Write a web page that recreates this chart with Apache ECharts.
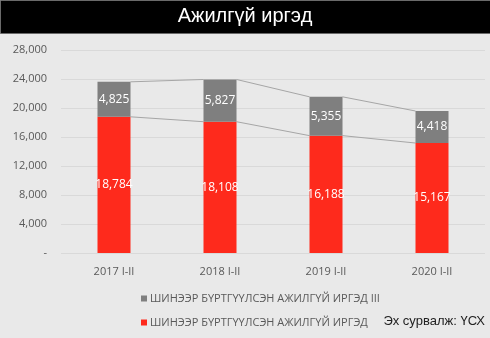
<!DOCTYPE html>
<html>
<head>
<meta charset="utf-8">
<script src="https://cdn.jsdelivr.net/npm/echarts@6/dist/echarts.min.js"></script>
<style>
  html, body { margin: 0; padding: 0; background: #e9e9e9; }
  #chart { width: 490px; height: 338px; }
</style>
</head>
<body>
<div id="chart"></div>
<script>
// Period labels along the horizontal axis
const periods = ['2017 I-II', '2018 I-II', '2019 I-II', '2020 I-II'];
// Newly registered unemployed citizens (lower, red segment)
const registered = [18784, 18108, 16188, 15167];
// Second group stacked above (grey segment)
const registeredIII = [4825, 5827, 5355, 4418];
// Vertical axis ticks
const yTicks = [0, 4000, 8000, 12000, 16000, 20000, 24000, 28000];

const nameRed = 'ШИНЭЭР БҮРТГҮҮЛСЭН АЖИЛГҮЙ ИРГЭД';
const nameGrey = 'ШИНЭЭР БҮРТГҮҮЛСЭН АЖИЛГҮЙ ИРГЭД III';

const BAR_W = 33;
const FONT = '"Open Sans", "Noto Sans", sans-serif';
const fmt = v => v.toLocaleString('en-US');

// Connector lines between neighbouring bars (segment tops)
const totals = registered.map((v, i) => v + registeredIII[i]);
function connectorData(tops) {
  const out = [];
  for (let i = 0; i < tops.length - 1; i++) out.push([i, tops[i], tops[i + 1]]);
  return out;
}
function renderConnector(params, api) {
  const i = api.value(0);
  const a = api.coord([i, api.value(1)]);
  const b = api.coord([i + 1, api.value(2)]);
  return {
    type: 'line',
    shape: { x1: a[0] + BAR_W / 2, y1: a[1], x2: b[0] - BAR_W / 2, y2: b[1] },
    style: { stroke: '#a6a6a6', lineWidth: 1 }
  };
}

const chart = echarts.init(document.getElementById('chart'), null, { renderer: 'canvas' });
chart.setOption({
  backgroundColor: '#e9e9e9',
  animation: false,
  graphic: [
    { type: 'rect', left: 0, top: 0, shape: { width: 490, height: 33 },
      style: { fill: '#000', stroke: '#6a6a6a', lineWidth: 1 }, z: 10 },
    { type: 'text', left: 'center', top: 6, z: 11,
      style: { text: 'Ажилгүй иргэд', fill: '#fff', font: '20px "Liberation Sans", Arial, sans-serif' } },
    { type: 'text', right: 5, top: 315, z: 11,
      style: { text: 'Эх сурвалж: ҮСХ', fill: '#222', font: '13px "Liberation Sans", Arial, sans-serif' } }
  ],
  grid: { left: 61, right: 5, top: 50, bottom: 85 },
  legend: {
    orient: 'vertical',
    left: 136, top: 288,
    itemWidth: 6, itemHeight: 6, itemGap: 13,
    icon: 'rect',
    data: [nameGrey, nameRed],
    textStyle: { color: '#595959', fontSize: 11, fontFamily: FONT, padding: [0, 0, 0, -2] }
  },
  xAxis: {
    type: 'category',
    data: periods,
    axisLine: { show: false },
    axisTick: { show: false },
    axisLabel: { color: '#595959', fontSize: 11, fontFamily: FONT, margin: 13 }
  },
  yAxis: {
    type: 'value',
    min: yTicks[0], max: yTicks[yTicks.length - 1], interval: 4000,
    axisLine: { show: false },
    axisTick: { show: false },
    splitLine: { lineStyle: { color: '#d9d9d9', width: 1 } },
    axisLabel: {
      color: '#595959', fontSize: 11, fontFamily: FONT, margin: 14,
      formatter: v => v === 0 ? '-' : fmt(v)
    }
  },
  series: [
    {
      name: nameRed, type: 'bar', stack: 'total', barWidth: BAR_W,
      data: registered,
      itemStyle: { color: '#fe2a1c' },
      label: { show: true, position: 'inside', color: '#fff', fontSize: 12, fontFamily: FONT, formatter: p => fmt(p.value) }
    },
    {
      name: nameGrey, type: 'bar', stack: 'total', barWidth: BAR_W,
      data: registeredIII,
      itemStyle: { color: '#7f7f7f' },
      label: { show: true, position: 'inside', color: '#fff', fontSize: 12, fontFamily: FONT, formatter: p => fmt(p.value) }
    },
    {
      type: 'custom', renderItem: renderConnector, data: connectorData(totals),
      silent: true, z: 1, encode: { x: 0, y: [1, 2] }
    },
    {
      type: 'custom', renderItem: renderConnector, data: connectorData(registered),
      silent: true, z: 1, encode: { x: 0, y: [1, 2] }
    }
  ]
});
</script>
</body>
</html>
